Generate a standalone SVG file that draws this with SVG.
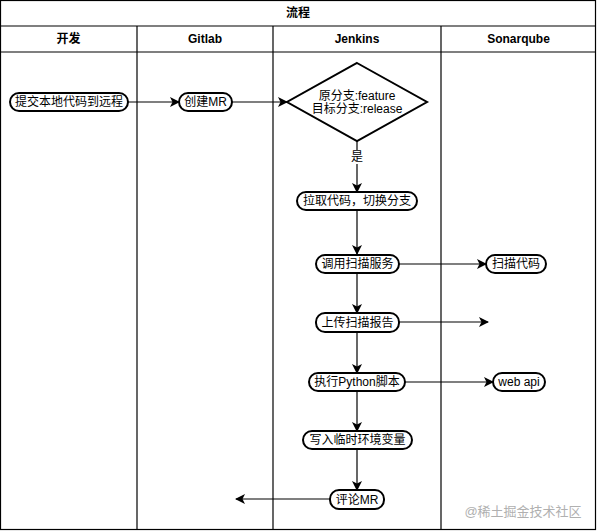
<svg xmlns="http://www.w3.org/2000/svg" width="597" height="532" viewBox="0 0 597 532">
<defs>
<style>
.frame{fill:none;stroke:#000;stroke-width:1.2}
.node{fill:#fff;stroke:#000;stroke-width:2}
.t{font-family:"Liberation Sans","Noto Sans CJK SC",sans-serif;font-size:12px;fill:#000;text-anchor:middle;dominant-baseline:central}
.h{font-weight:bold}
.c{fill:none;stroke:#000;stroke-width:1.2}
</style>
<marker id="arr" viewBox="0 0 10 10" refX="9" refY="5" markerWidth="10" markerHeight="10" markerUnits="userSpaceOnUse" orient="auto">
<path d="M0,0 L10,5 L0,10 L2.5,5 Z" fill="#000"/>
</marker>
</defs>
<rect width="597" height="532" fill="#fff"/>
<g id="pool">
<rect class="frame" x="0.5" y="0.5" width="595" height="529"/>
<line class="frame" x1="0.5" y1="26" x2="595.5" y2="26"/>
<line class="frame" x1="0.5" y1="52" x2="595.5" y2="52"/>
<line class="frame" x1="137" y1="26" x2="137" y2="529.5"/>
<line class="frame" x1="273" y1="26" x2="273" y2="529.5"/>
<line class="frame" x1="441" y1="26" x2="441" y2="529.5"/>
<text class="t h" x="298" y="13">流程</text>
<text class="t h" x="68.5" y="39">开发</text>
<text class="t h" x="205" y="39">Gitlab</text>
<text class="t h" x="357" y="39">Jenkins</text>
<text class="t h" x="518.5" y="39">Sonarqube</text>
</g>
<g id="connectors">
<line class="c" x1="128" y1="102" x2="179" y2="102" marker-end="url(#arr)"/>
<line class="c" x1="232" y1="102" x2="287" y2="102" marker-end="url(#arr)"/>
<line class="c" x1="357" y1="141" x2="357" y2="192" marker-end="url(#arr)"/>
<line class="c" x1="357" y1="210" x2="357" y2="254" marker-end="url(#arr)"/>
<line class="c" x1="399" y1="264" x2="486" y2="264" marker-end="url(#arr)"/>
<line class="c" x1="357" y1="273" x2="357" y2="313" marker-end="url(#arr)"/>
<line class="c" x1="399" y1="322" x2="488" y2="322" marker-end="url(#arr)"/>
<line class="c" x1="357" y1="332" x2="357" y2="373" marker-end="url(#arr)"/>
<line class="c" x1="405" y1="382" x2="493" y2="382" marker-end="url(#arr)"/>
<line class="c" x1="357" y1="391" x2="357" y2="431" marker-end="url(#arr)"/>
<line class="c" x1="357" y1="449" x2="357" y2="490" marker-end="url(#arr)"/>
<line class="c" x1="330" y1="499" x2="236" y2="499" marker-end="url(#arr)"/>
<rect x="349" y="150" width="16" height="14" fill="#fff"/>
<text class="t" x="357" y="157">是</text>
</g>
<g id="n1"><rect class="node" x="10" y="93" width="118" height="18" rx="9"/><text class="t" x="69" y="102">提交本地代码到远程</text></g>
<g id="n2"><rect class="node" x="179" y="93" width="53" height="18" rx="9"/><text class="t" x="205.5" y="102">创建MR</text></g>
<g id="n3"><polygon class="node" points="357,63 427,102 357,141 287,102"/><text class="t" x="357" y="96">原分支:feature</text><text class="t" x="357" y="109">目标分支:release</text></g>
<g id="n4"><rect class="node" x="297" y="192" width="120" height="18" rx="9"/><text class="t" x="357" y="201">拉取代码，切换分支</text></g>
<g id="n5"><rect class="node" x="316" y="255" width="83" height="18" rx="9"/><text class="t" x="357.5" y="264">调用扫描服务</text></g>
<g id="n6"><rect class="node" x="486" y="255" width="60" height="18" rx="9"/><text class="t" x="516" y="264">扫描代码</text></g>
<g id="n7"><rect class="node" x="316" y="313" width="83" height="19" rx="9"/><text class="t" x="357.5" y="322.5">上传扫描报告</text></g>
<g id="n8"><rect class="node" x="309" y="373" width="96" height="18" rx="9"/><text class="t" x="357" y="382">执行Python脚本</text></g>
<g id="n9"><rect class="node" x="493" y="373" width="52" height="18" rx="9"/><text class="t" x="519" y="382">web api</text></g>
<g id="n10"><rect class="node" x="303" y="431" width="109" height="18" rx="9"/><text class="t" x="357.5" y="440">写入临时环境变量</text></g>
<g id="n11"><rect class="node" x="330" y="490" width="54" height="19" rx="9"/><text class="t" x="357" y="499.5">评论MR</text></g>
<text x="523" y="511" font-family="Liberation Sans,Noto Sans CJK SC,sans-serif" font-size="13" fill="#b0b0b0" text-anchor="middle" dominant-baseline="central">@稀土掘金技术社区</text>
</svg>
